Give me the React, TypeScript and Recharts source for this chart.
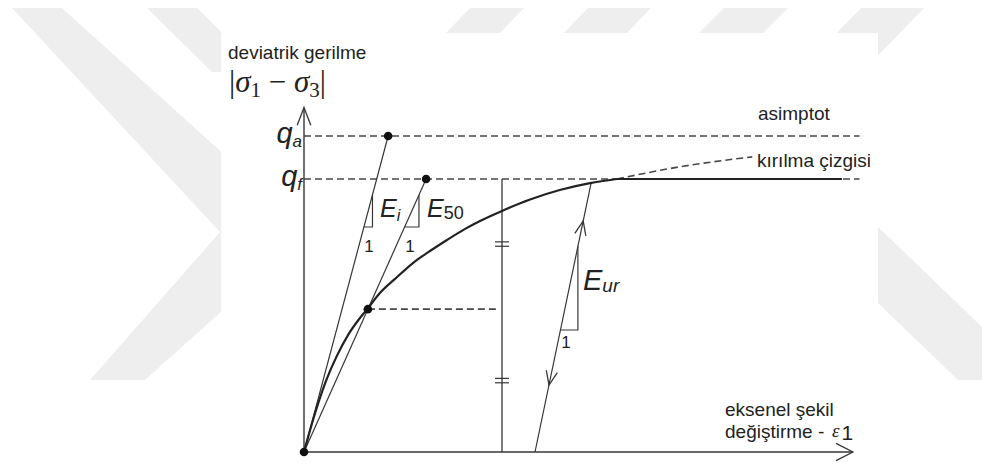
import { ComposedChart, Line, Scatter, XAxis, YAxis, ReferenceDot, ReferenceLine } from "recharts";

// stress–strain curve: axial strain (e) vs deviatoric stress (q)
const curveStrain = [0, 2, 4, 6, 8, 10, 11.5, 13.8, 16.5, 19.8, 22.9, 26.0, 29.3, 32.0, 36.0, 41.1, 46.5, 52.0, 56.9];
const curveStress = [0, 12.2, 22.5, 30.5, 37.0, 42.0, 45.2, 50.3, 54.7, 59.8, 63.6, 67.1, 70.6, 73.1, 76.3, 79.9, 82.9, 85.1, 86.4];

// dashed continuation of the hyperbola past failure
const extStrain = [56.9, 68.5, 81.5];
const extStress = [86.4, 90.3, 93.4];

const Q_A = 100; // asymptote
const Q_F = 86.4; // failure
const Q_50 = 45.2; // half of failure
const PLATEAU_END = 97.8;
const DASH_END = 101;
const CHECK_STRAIN = 36; // vertical used to show the equal halves
const HALF_DASH_END = 35.3;
const AXIS_X_END = 99.8;

// stiffness lines, each from two points
const eiLine = [{ e: 0, q: 0 }, { e: 15.3, q: Q_A }];
const e50Line = [{ e: 0, q: 0 }, { e: 22.2, q: Q_F }];
const eurLine = [{ e: 42.0, q: 0 }, { e: 52.2, q: 85.1 }];

// right-angle corners of the slope triangles
const eiCorner = { e: 12.45, q: 71.2 };
const e50Corner = { e: 20.9, q: 71.2 };
const eurCorner = { e: 49.8, q: 38.6 };

// "=" marks on the check line, and the unload/reload arrow tips
const equalMarks = [22.6, 65.8];
const reloadArrowQ = 73.1;
const unloadArrowQ = 21.2;

// layout
const W = 982;
const H = 466;
const X_MAX = 102;
const Y_MAX = 109;
const PLOT_LEFT = 304;
const PLOT_RIGHT = 865;
const PLOT_BOTTOM = 452;
const PLOT_TOP = PLOT_BOTTOM - Y_MAX * 3.16;
const Y_AXIS_W = 60;
const pxE = (PLOT_RIGHT - PLOT_LEFT) / X_MAX;
const pxQ = (PLOT_BOTTOM - PLOT_TOP) / Y_MAX;

const INK = "#222";
const LINE = "#363636";
const DASH = "#474747";
const SANS = "'Liberation Sans', Arial, sans-serif";
const SERIF = "'Liberation Serif', 'Times New Roman', serif";

const eAt = (ln: { e: number; q: number }[], q: number) =>
    ln[0].e + ((q - ln[0].q) * (ln[1].e - ln[0].e)) / (ln[1].q - ln[0].q);
const qAt = (ln: { e: number; q: number }[], e: number) =>
    ln[0].q + ((e - ln[0].e) * (ln[1].q - ln[0].q)) / (ln[1].e - ln[0].e);
const triangle = (ln: { e: number; q: number }[], c: { e: number; q: number }) => [
    { e: eAt(ln, c.q), q: c.q },
    { e: c.e, q: c.q },
    { e: c.e, q: qAt(ln, c.e) },
];

const curve = curveStrain.map((e, i) => ({ e, q: curveStress[i] }));
const extension = extStrain.map((e, i) => ({ e, q: extStress[i] }));
const plateau = [{ e: curveStrain[curveStrain.length - 1], q: Q_F }, { e: PLATEAU_END, q: Q_F }];
const asymptote = [{ e: 0, q: Q_A }, { e: DASH_END, q: Q_A }];
const failure = [{ e: 0, q: Q_F }, { e: DASH_END, q: Q_F }];
const halfDash = [{ e: eAt(e50Line, Q_50), q: Q_50 }, { e: HALF_DASH_END, q: Q_50 }];
const checkLine = [{ e: CHECK_STRAIN, q: 0 }, { e: CHECK_STRAIN, q: Q_F }];
const keyPoints = [eiLine[0], eiLine[1], e50Line[1], { e: eAt(e50Line, Q_50), q: Q_50 }];

const eurAngle =
    (Math.atan2(-(eurLine[1].q - eurLine[0].q) * pxQ, (eurLine[1].e - eurLine[0].e) * pxE) * 180) / Math.PI;

function ArrowHead({ cx, cy, angle, len, spread }: { cx: number; cy: number; angle: number; len: number; spread: number }) {
    const a = (angle * Math.PI) / 180;
    const s = (spread * Math.PI) / 180;
    const b1 = [cx - len * Math.cos(a - s), cy - len * Math.sin(a - s)];
    const b2 = [cx - len * Math.cos(a + s), cy - len * Math.sin(a + s)];
    return (
        <path
            d={`M${b1[0]},${b1[1]} L${cx},${cy} L${b2[0]},${b2[1]}`}
            fill="none"
            stroke={LINE}
            strokeWidth={1.3}
        />
    );
}

function EqualMark({ cx, cy }: { cx: number; cy: number }) {
    return (
        <g stroke={LINE} strokeWidth={1.2}>
            <line x1={cx - 7} x2={cx + 7} y1={cy - 2.2} y2={cy - 2.2} />
            <line x1={cx - 7} x2={cx + 7} y1={cy + 2.2} y2={cy + 2.2} />
        </g>
    );
}

const qTickSub: Record<number, string> = { [Q_A]: "a", [Q_F]: "f" };

function QTick({ x, y, payload }: any) {
    return (
        <text x={x} y={y + 7} textAnchor="end" fill={INK} fontFamily={SANS} fontStyle="italic" fontSize={29}>
            q
            <tspan fontSize={17} dy={4}>{qTickSub[payload.value]}</tspan>
        </text>
    );
}

function Watermark() {
    const bands = [
        "12,8 62,8 310,232 145,380 90,380 220,232",
        "147,8 197,8 262,72 212,72",
        "470,8 524,8 497,36 443,36",
        "588,8 651,8 622,38 559,38",
        "724,8 788,8 758,38 694,38",
        "861,8 924,8 866,68 803,68",
        "850,200 982,327 982,380 958,380 850,276",
    ];
    return (
        <svg width={W} height={H} style={{ position: "absolute", left: 0, top: 0 }}>
            {bands.map((p, i) => (
                <polygon key={i} points={p} fill="#eeeeee" />
            ))}
            <rect x={221} y={33} width={657} height={H - 33} fill="#ffffff" />
        </svg>
    );
}

const lineProps = { type: "linear" as const, dataKey: "q", dot: false, activeDot: false, isAnimationActive: false };

export default function App() {
    return (
        <div style={{ position: "absolute", left: 0, top: 0, width: W, height: H, background: "#fff" }}>
            <Watermark />
            <div style={{ position: "absolute", left: 0, top: 0 }}>
                <ComposedChart
                    width={W}
                    height={H}
                    margin={{ top: PLOT_TOP, right: W - PLOT_RIGHT, bottom: H - PLOT_BOTTOM, left: PLOT_LEFT - Y_AXIS_W }}
                >
                    <XAxis type="number" dataKey="e" domain={[0, X_MAX]} hide />
                    <YAxis
                        type="number"
                        dataKey="q"
                        domain={[0, Y_MAX]}
                        ticks={[Q_F, Q_A]}
                        interval={0}
                        width={Y_AXIS_W}
                        axisLine={false}
                        tickLine={false}
                        tickSize={0}
                        tickMargin={2}
                        tick={<QTick />}
                    />

                    {/* axes */}
                    <ReferenceLine segment={[{ x: 0, y: 0 }, { x: 0, y: Y_MAX }]} stroke={LINE} strokeWidth={1.4} />
                    <ReferenceLine segment={[{ x: 0, y: 0 }, { x: AXIS_X_END, y: 0 }]} stroke={LINE} strokeWidth={1.6} />
                    <ReferenceDot x={0} y={Y_MAX} r={0} ifOverflow="visible"
                        shape={(p: any) => <ArrowHead cx={p.cx} cy={p.cy} angle={-90} len={19} spread={21} />} />
                    <ReferenceDot x={AXIS_X_END} y={0} r={0} ifOverflow="visible"
                        shape={(p: any) => <ArrowHead cx={p.cx} cy={p.cy} angle={0} len={19} spread={27} />} />

                    {/* asymptote and failure levels */}
                    <Line {...lineProps} data={asymptote} stroke={DASH} strokeWidth={1.6} strokeDasharray="7 4" />
                    <Line {...lineProps} data={failure} stroke={DASH} strokeWidth={1.6} strokeDasharray="7 4" />
                    <Line {...lineProps} data={extension} type="monotone" stroke={DASH} strokeWidth={1.6} strokeDasharray="7 4" />
                    <Line {...lineProps} data={halfDash} stroke={DASH} strokeWidth={1.6} strokeDasharray="7 4" />

                    {/* stiffness lines and their slope triangles */}
                    <Line {...lineProps} data={eiLine} stroke={LINE} strokeWidth={1.2} />
                    <Line {...lineProps} data={e50Line} stroke={LINE} strokeWidth={1.2} />
                    <Line {...lineProps} data={eurLine} stroke={LINE} strokeWidth={1.2} />
                    <Line {...lineProps} data={triangle(eiLine, eiCorner)} stroke={LINE} strokeWidth={1.2} />
                    <Line {...lineProps} data={triangle(e50Line, e50Corner)} stroke={LINE} strokeWidth={1.2} />
                    <Line {...lineProps} data={triangle(eurLine, eurCorner)} stroke={LINE} strokeWidth={1.2} />
                    <Line {...lineProps} data={checkLine} stroke={LINE} strokeWidth={1.3} />

                    {/* stress–strain curve */}
                    <Line {...lineProps} data={curve} type="monotone" stroke={INK} strokeWidth={2.2} />
                    <Line {...lineProps} data={plateau} stroke={INK} strokeWidth={2} />

                    <Scatter
                        data={keyPoints}
                        dataKey="q"
                        isAnimationActive={false}
                        shape={(p: any) => <circle cx={p.cx} cy={p.cy} r={4.3} fill="#111" />}
                    />

                    {equalMarks.map((q) => (
                        <ReferenceDot key={q} x={CHECK_STRAIN} y={q} r={0}
                            shape={(p: any) => <EqualMark cx={p.cx} cy={p.cy} />} />
                    ))}
                    <ReferenceDot x={eAt(eurLine, reloadArrowQ)} y={reloadArrowQ} r={0}
                        shape={(p: any) => <ArrowHead cx={p.cx} cy={p.cy} angle={eurAngle} len={15} spread={22} />} />
                    <ReferenceDot x={eAt(eurLine, unloadArrowQ)} y={unloadArrowQ} r={0}
                        shape={(p: any) => <ArrowHead cx={p.cx} cy={p.cy} angle={eurAngle + 180} len={15} spread={22} />} />

                    {/* annotations */}
                    <g fill={INK} fontFamily={SANS}>
                        <text x={228} y={59} fontSize={19}>deviatrik gerilme</text>
                        <text x={229} y={92} fontFamily={SERIF} fontSize={31}>
                            |<tspan fontStyle="italic">σ</tspan>
                            <tspan fontSize={21} dy={5}>1</tspan>
                            <tspan dy={-5}> − </tspan>
                            <tspan fontStyle="italic">σ</tspan>
                            <tspan fontSize={21} dy={5}>3</tspan>
                            <tspan dy={-5}>|</tspan>
                        </text>
                        <text x={758} y={120} fontSize={19}>asimptot</text>
                        <text x={757} y={167} fontSize={19}>kırılma çizgisi</text>
                        <text x={725} y={416} fontSize={19}>eksenel şekil</text>
                        <text x={725} y={438} fontSize={19}>
                            değiştirme
                            <tspan x={818}>-</tspan>
                        </text>
                        <text x={832} y={437} fontFamily={SERIF} fontSize={19}>
                            <tspan fontStyle="italic">ε</tspan>
                            <tspan fontFamily={SANS} fontSize={21} dx={2} dy={3}>1</tspan>
                        </text>

                        <text x={380} y={217} fontSize={25} fontStyle="italic">
                            E<tspan fontSize={16} dy={4}>i</tspan>
                        </text>
                        <text x={427} y={217} fontSize={25} fontStyle="italic">
                            E<tspan fontSize={18} fontStyle="normal" dy={2}>50</tspan>
                        </text>
                        <text x={583} y={290} fontSize={29} fontStyle="italic">
                            E<tspan fontSize={19} dy={2}>ur</tspan>
                        </text>
                        <text x={369} y={252} fontSize={17} textAnchor="middle">1</text>
                        <text x={410} y={252} fontSize={17} textAnchor="middle">1</text>
                        <text x={566} y={348} fontSize={17} textAnchor="middle">1</text>
                    </g>
                </ComposedChart>
            </div>
        </div>
    );
}
